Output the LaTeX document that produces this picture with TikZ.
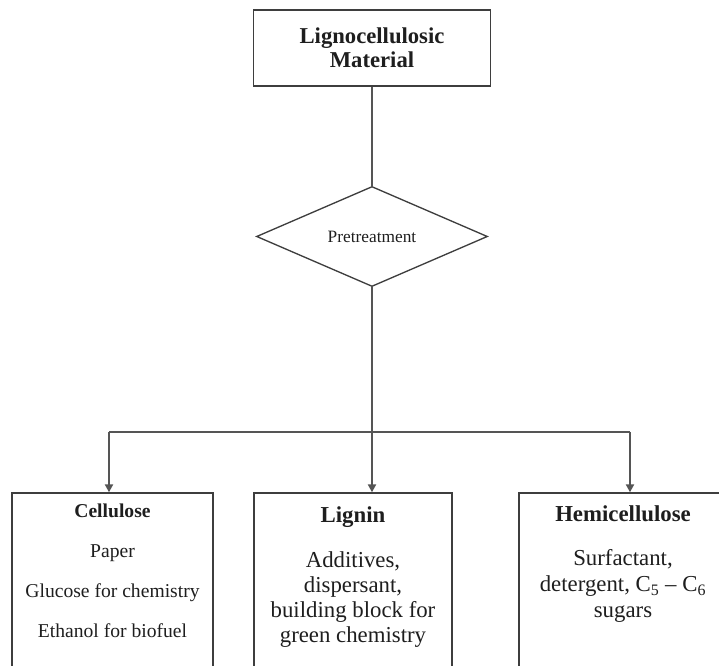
\documentclass[tikz,border=0pt]{standalone}
\usepackage{fontspec}
\setmainfont{Liberation Serif}
\usepackage{tikz}
\usetikzlibrary{shapes.geometric,arrows.meta,positioning}

\definecolor{linegray}{HTML}{555555}
\definecolor{boxgray}{HTML}{3E3E3E}
\definecolor{inkgray}{HTML}{1E1E1E}

\begin{document}
\begin{tikzpicture}[x=0.75pt,y=-0.75pt,semithick]
        \tikzstyle{stagebox}=[
            rectangle,
            draw=boxgray,
            line width=1pt,
            fill=white,
            inner sep=0pt,
            text=inkgray,
            align=center
        ]
        \tikzstyle{stagediamond}=[
            diamond,
            draw=boxgray,
            line width=1pt,
            inner sep=0pt,
            minimum width=173.25pt,
            minimum height=63.75pt,
            text=inkgray,
            font=\fontsize{13pt}{15pt}\selectfont
        ]
        \tikzstyle{usetext}=[
            anchor=north,
            inner sep=0pt,
            text=inkgray,
            align=center
        ]
        \tikzstyle{link}=[draw=linegray, line width=1.5pt]
        \tikzstyle{arrow}=[link, -{Triangle[width=6pt,length=6pt]}]

        \useasboundingbox (0,0) rectangle (719,666);
        \clip (0,0) rectangle (719,666);

        % source and treatment step
        \node[stagebox, minimum width=177.75pt, minimum height=57pt,
              font=\fontsize{17pt}{18pt}\selectfont\bfseries] (mat) at (372,48) {Lignocellulosic\\Material};
        \node[stagediamond] (pre) at (372,236.5) {Pretreatment};

        % the three fractions (boxes run past the lower edge)
        \node[stagebox, minimum width=150.75pt, minimum height=155.25pt] (cel) at (112.5,596.5) {};
        \node[stagebox, minimum width=148.5pt, minimum height=155.25pt] (lig) at (353,596.5) {};
        \node[stagebox, minimum width=156pt, minimum height=155.25pt] (hem) at (623,596.5) {};

        \node[usetext, font=\fontsize{14.7pt}{30pt}\selectfont] (celtxt) at (112.5,503.5)
            {\textbf{Cellulose}\\Paper\\Glucose for chemistry\\Ethanol for biofuel};
        \node[usetext, font=\fontsize{17.1pt}{18.75pt}\selectfont] (ligtxt) at (353,506)
            {\textbf{Lignin}\\[15pt]Additives,\\dispersant,\\building block for\\green chemistry};
        \node[usetext, font=\fontsize{17.1pt}{19.5pt}\selectfont] (hemtxt) at (623,505.5)
            {\textbf{Hemicellulose}\\[13.5pt]Surfactant,\\detergent, C\textsubscript{5} -- C\textsubscript{6}\\sugars};

        % branching
        \coordinate (lsplit) at (109,432);
        \coordinate (rsplit) at (630,432);

        \draw[link] (mat) -- (pre);
        \draw[arrow] (pre.south) -- (pre.south |- lig.north);
        \draw[link] (lsplit) -- (rsplit);
        \draw[arrow] (lsplit) -- (lsplit |- cel.north);
        \draw[arrow] (rsplit) -- (rsplit |- hem.north);

    \end{tikzpicture}
\end{document}
